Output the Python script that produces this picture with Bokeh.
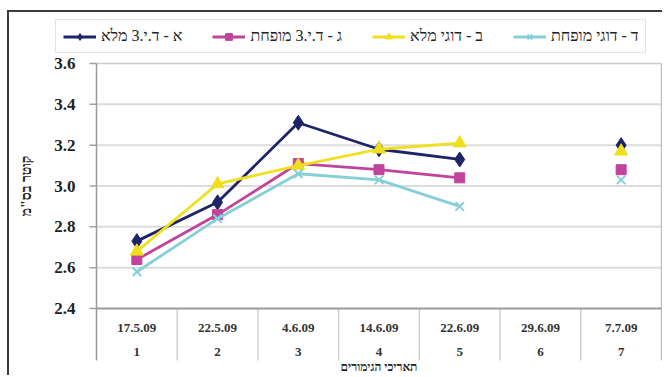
import math
from bokeh.plotting import figure
from bokeh.models import Range1d, Legend, LegendItem
from bokeh.core.properties import value
from bokeh.embed import file_html
from bokeh.resources import INLINE

nan = float("nan")

# ---- data ----
dates = ["17.5.09", "22.5.09", "4.6.09", "14.6.09", "22.6.09", "29.6.09", "7.7.09"]
measure_no = ["1", "2", "3", "4", "5", "6", "7"]
y_ticks = [2.4, 2.6, 2.8, 3.0, 3.2, 3.4, 3.6]
y_tick_labels = ["2.4", "2.6", "2.8", "3.0", "3.2", "3.4", "3.6"]

name_a = "א - ד.י.3 מלא"
name_g = "ג - ד.י.3 מופחת"
name_b = "ב - דוגי מלא"
name_d = "ד - דוגי מופחת"

vals_a = [2.73, 2.92, 3.31, 3.18, 3.13, nan, 3.20]
vals_g = [2.64, 2.86, 3.11, 3.08, 3.04, nan, 3.08]
vals_b = [2.68, 3.01, 3.10, 3.18, 3.21, nan, 3.17]
vals_d = [2.58, 2.84, 3.06, 3.03, 2.90, nan, 3.03]

y_title = "קוטר בס\"מ"
x_title = "תאריכי הגימורים"

# ---- layout (pixels of the canvas, which is 655 x 365) ----
W, H = 655, 365
PLOT_L, PLOT_R, PLOT_T, PLOT_B = 87, 652, 51, 296   # plot box inside the canvas
TABLE_H = 52

x = list(range(1, len(dates) + 1))
X0, X1 = 0.5, len(dates) + 0.5
Y_MIN, Y_MAX = y_ticks[0], y_ticks[-1]
UX = (X1 - X0) / (PLOT_R - PLOT_L)        # data per px (x)
UY = (Y_MAX - Y_MIN) / (PLOT_B - PLOT_T)  # data per px (y)
x_range = Range1d(X0 - PLOT_L * UX, X1 + (W - PLOT_R) * UX)
y_range = Range1d(Y_MIN - (H - PLOT_B) * UY, Y_MAX + PLOT_T * UY)
TABLE_BOTTOM = Y_MIN - TABLE_H * UY

SERIF = value("Liberation Serif")

p = figure(width=W, height=H, margin=(10, 0, 0, 7),
           x_range=x_range, y_range=y_range,
           output_backend="svg", toolbar_location=None,
           x_axis_location=None, y_axis_location=None,
           min_border=0)
p.styles = {"border-top": "2px solid #3c3c3c", "border-left": "2px solid #3c3c3c"}
p.outline_line_color = None
p.grid.visible = False
p.background_fill_color = "white"
p.border_fill_color = "white"

# grid lines
inner = y_ticks[1:-1]
p.segment(x0=[X0] * len(inner), y0=inner, x1=[X1] * len(inner), y1=inner,
          line_color="#dcdcdc", line_width=2)

# frame borders and category table
p.segment(x0=[X0], y0=[Y_MAX], x1=[X1], y1=[Y_MAX], line_color="#cccccc", line_width=1.5)
p.segment(x0=[X1], y0=[TABLE_BOTTOM], x1=[X1], y1=[Y_MAX], line_color="#c0c0c0", line_width=1.5)
divs = [i + 0.5 for i in x[:-1]]
p.segment(x0=divs, y0=[Y_MIN] * len(divs), x1=divs, y1=[TABLE_BOTTOM] * len(divs),
          line_color="#cfcfcf", line_width=1.5)
p.segment(x0=[X0], y0=[Y_MIN], x1=[X1], y1=[Y_MIN], line_color="#9a9a9a", line_width=2)
p.segment(x0=[X0], y0=[TABLE_BOTTOM], x1=[X0], y1=[Y_MAX], line_color="#9a9a9a", line_width=1.5)

# y axis ticks and labels
p.ray(x=[X0] * len(y_ticks), y=y_ticks, length=7, length_units="screen", angle=math.pi,
      line_color="#a0a0a0", line_width=1.5)
p.text(x=[X0] * len(y_ticks), y=y_ticks, text=y_tick_labels, x_offset=-21,
       text_align="right", text_baseline="middle", text_font=SERIF,
       text_font_style="bold", text_font_size="17px", text_color="#222222")
p.text(x=[X0], y=[(Y_MIN + Y_MAX) / 2], text=[y_title], x_offset=-70, angle=math.pi / 2,
       text_align="center", text_baseline="middle", text_font=SERIF,
       text_font_style="bold", text_font_size="14px", text_color="#222222")

# category table texts
p.text(x=x, y=[Y_MIN] * len(x), text=dates, y_offset=19, text_align="center",
       text_baseline="middle", text_font=SERIF, text_font_style="bold",
       text_font_size="13px", text_color="#333333")
p.text(x=x, y=[Y_MIN] * len(x), text=measure_no, y_offset=43, text_align="center",
       text_baseline="middle", text_font=SERIF, text_font_style="bold",
       text_font_size="13px", text_color="#333333")
p.text(x=[(X0 + X1) / 2], y=[Y_MIN], text=[x_title], y_offset=58, text_align="center",
       text_baseline="middle", text_font=SERIF, text_font_style="bold",
       text_font_size="12px", text_color="#222222")

# series
specs = [
    (name_a, vals_a, "#1f2468", "diamond", 15),
    (name_g, vals_g, "#c0449c", "square", 10),
    (name_b, vals_b, "#f0e01c", "triangle", 13),
    (name_d, vals_d, "#86cfd9", "x", 12),
]
items = []
for name, vals, col, mk, sz in specs:
    lr = p.line(x, vals, line_color=col, line_width=2.8)
    if mk == "x":
        sr = p.scatter(x, vals, marker=mk, size=sz, line_color=col, line_width=2)
    else:
        sr = p.scatter(x, vals, marker=mk, size=sz, fill_color=col, line_color=col)
    items.append(LegendItem(label=name, renderers=[lr, sr]))

legend = Legend(items=items, orientation="horizontal", location=(46, 324),
                label_text_font="Liberation Serif", label_text_font_size="16px",
                label_text_color="#222222", glyph_width=33, glyph_height=17,
                label_standoff=5, spacing=30, padding=7, margin=0,
                border_line_color="#c8c8c8", border_line_width=1,
                background_fill_color="white", background_fill_alpha=1)
p.add_layout(legend)

open("out.html", "w").write(file_html(p, INLINE))
